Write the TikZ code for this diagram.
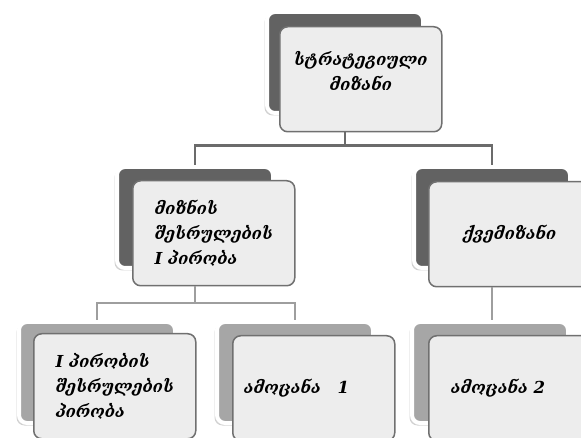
\documentclass[tikz,border=0pt]{standalone}
\usepackage{fontspec}
\newfontfamily\geo{DejaVu Serif}
\usetikzlibrary{shadows}
\definecolor{fondsombre}{HTML}{626262}
\definecolor{fondclair}{HTML}{A6A6A6}
\definecolor{cadre}{HTML}{707070}
\definecolor{remplis}{HTML}{EDEDED}
\definecolor{lienA}{HTML}{6B6B6B}
\definecolor{lienB}{HTML}{9E9E9E}
\tikzset{
  fond/.style={draw=white, line width=4pt, rounded corners=8pt, fill=#1,
    anchor=north west, minimum width=156pt, minimum height=101pt,
    drop shadow={shadow xshift=-2.5pt, shadow yshift=-2.5pt, fill=black, opacity=.18}},
  boite/.style={draw=cadre, line width=1.5pt, rounded corners=8pt, fill=remplis,
    anchor=north west, minimum width=162pt, minimum height=105pt,
    font=\geo\itshape\bfseries\fontsize{16.5}{25}\selectfont},
  lienhaut/.style={draw=lienA, line width=2.5pt},
  lienbas/.style={draw=lienB, line width=2pt}
}
\begin{document}
\begin{tikzpicture}[x=1pt,y=-1pt]
\useasboundingbox (0,0) rectangle (581,438);
\clip (0,0) rectangle (581,438);
%boites du fond
\node[fond=fondsombre] (topB) at (265,10) {};
\node[fond=fondsombre] (midLB) at (115,165) {};
\node[fond=fondsombre] (midRB) at (412,165) {};
\node[fond=fondclair] (botLB) at (17,320) {};
\node[fond=fondclair] (botMB) at (215,320) {};
\node[fond=fondclair] (botRB) at (410,320) {};
%boites devant
\node[boite, align=center] (topF) at (279,26) {სტრატეგიული\\მიზანი\vphantom{I}\\[-8pt]};
\node[boite, align=left] (midLF) at (132,180) {მიზნის\\შესრულების\\I პირობა};
\node[boite, align=center] (midRF) at (428,181) {ქვემიზანი};
\node[boite, align=left] (botLF) at (33,333) {I პირობის\\შესრულების\\პირობა};
\node[boite, align=left, text width=140pt, inner xsep=11pt] (botMF) at (232,335) {ამოცანა\quad 1\\[4pt]};
\node[boite, align=left, text width=118pt, inner xsep=20pt] (botRF) at (428,335) {ამოცანა 2\\[4pt]};
%liens
\draw[lienhaut] (topF.south -| topB.south) -- ++(0,13) coordinate (jTop);
\draw[lienhaut] (midLB.north) |- (jTop) -| (midRB.north);
\draw[lienbas] (midLF.south -| midLB.south) -- ++(0,17) coordinate (jMid);
\draw[lienbas] (botLB.north) |- (jMid) -| (botMB.north);
\draw[lienbas] (midRF.south -| midRB.south) -- (botRB.north -| midRB.south);
%fin
\end{tikzpicture}
\end{document}
